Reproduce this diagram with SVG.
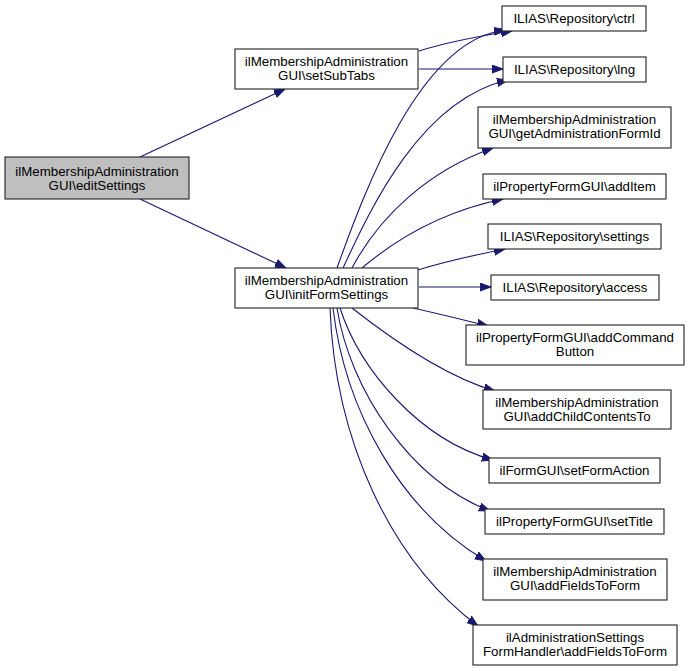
<svg xmlns="http://www.w3.org/2000/svg" width="688" height="671" viewBox="0 0 688 671">
<style>
.n rect{fill:#ffffff;stroke:#222222;stroke-width:1.1}
.n.cur rect{fill:#bfbfbf}
.n text{font-family:"Liberation Sans",Arial,sans-serif;font-size:13.3px;fill:#000000;text-anchor:middle}
.e path{fill:none;stroke:#191970;stroke-width:1.1;marker-end:url(#ah)}
</style>
<defs>
<marker id="ah" markerUnits="userSpaceOnUse" markerWidth="13" markerHeight="10" refX="11" refY="4.5" orient="auto">
<path d="M0,0.5 L11,4.5 L0,8.5 z" fill="#191970" stroke="#191970" stroke-width="1"/>
</marker>
</defs>
<rect width="688" height="671" fill="#ffffff"/>
<g id="edges" class="e">
<path d="M140,157 L285,89"/>
<path d="M140,199 L286,268"/>
<path d="M419,51 C445,43 480,36 512,31"/>
<path d="M419,69 L503,69"/>
<path d="M337,268 C365,190 420,40 505,30"/>
<path d="M343,268 C370,210 420,100 508,80"/>
<path d="M352,268 C380,215 430,170 493,148"/>
<path d="M362,268 C395,240 440,212 503,199"/>
<path d="M418,270 C440,263 470,256 505,249"/>
<path d="M419,287 L491,287"/>
<path d="M413,308 C435,313 460,319 488,326"/>
<path d="M352,308 C380,330 440,375 495,391"/>
<path d="M340,308 C360,370 420,440 493,460"/>
<path d="M337,308 C350,390 410,480 490,511"/>
<path d="M333,308 C345,410 400,510 486,561"/>
<path d="M330,308 C335,440 390,560 478,626"/>
</g>
<g id="editSettings" class="n cur"><rect x="5" y="157" width="184" height="42"/><text x="97" y="175.5">ilMembershipAdministration</text><text x="97" y="189.5">GUI\editSettings</text></g>
<g id="setSubTabs" class="n"><rect x="235" y="49" width="183" height="40"/><text x="326.5" y="66">ilMembershipAdministration</text><text x="326.5" y="80">GUI\setSubTabs</text></g>
<g id="initFormSettings" class="n"><rect x="235" y="268" width="183" height="40"/><text x="326.5" y="285">ilMembershipAdministration</text><text x="326.5" y="299">GUI\initFormSettings</text></g>
<g id="ctrl" class="n"><rect x="502" y="6" width="144" height="25"/><text x="574" y="22.5">ILIAS\Repository\ctrl</text></g>
<g id="lng" class="n"><rect x="503" y="57" width="143" height="25"/><text x="574.5" y="73.5">ILIAS\Repository\lng</text></g>
<g id="getAdministrationFormId" class="n"><rect x="478" y="107" width="193" height="41"/><text x="574.5" y="124">ilMembershipAdministration</text><text x="574.5" y="138">GUI\getAdministrationFormId</text></g>
<g id="addItem" class="n"><rect x="483" y="174" width="183" height="25"/><text x="574.5" y="190.5">ilPropertyFormGUI\addItem</text></g>
<g id="settings" class="n"><rect x="488" y="224" width="173" height="25"/><text x="574.5" y="240.5">ILIAS\Repository\settings</text></g>
<g id="access" class="n"><rect x="491" y="275" width="168" height="25"/><text x="575" y="291.5">ILIAS\Repository\access</text></g>
<g id="addCommandButton" class="n"><rect x="466" y="325" width="218" height="40"/><text x="575" y="342">ilPropertyFormGUI\addCommand</text><text x="575" y="356">Button</text></g>
<g id="addChildContentsTo" class="n"><rect x="483" y="390" width="188" height="39"/><text x="577" y="406.5">ilMembershipAdministration</text><text x="577" y="420.5">GUI\addChildContentsTo</text></g>
<g id="setFormAction" class="n"><rect x="489" y="458" width="171" height="25"/><text x="574.5" y="474.5">ilFormGUI\setFormAction</text></g>
<g id="setTitle" class="n"><rect x="485" y="509" width="179" height="25"/><text x="574.5" y="525.5">ilPropertyFormGUI\setTitle</text></g>
<g id="addFieldsToForm" class="n"><rect x="483" y="559" width="184" height="41"/><text x="575" y="576">ilMembershipAdministration</text><text x="575" y="590">GUI\addFieldsToForm</text></g>
<g id="ilAdministrationSettingsFormHandler" class="n"><rect x="473" y="625" width="204" height="40"/><text x="575" y="642">ilAdministrationSettings</text><text x="575" y="656">FormHandler\addFieldsToForm</text></g>
</svg>
